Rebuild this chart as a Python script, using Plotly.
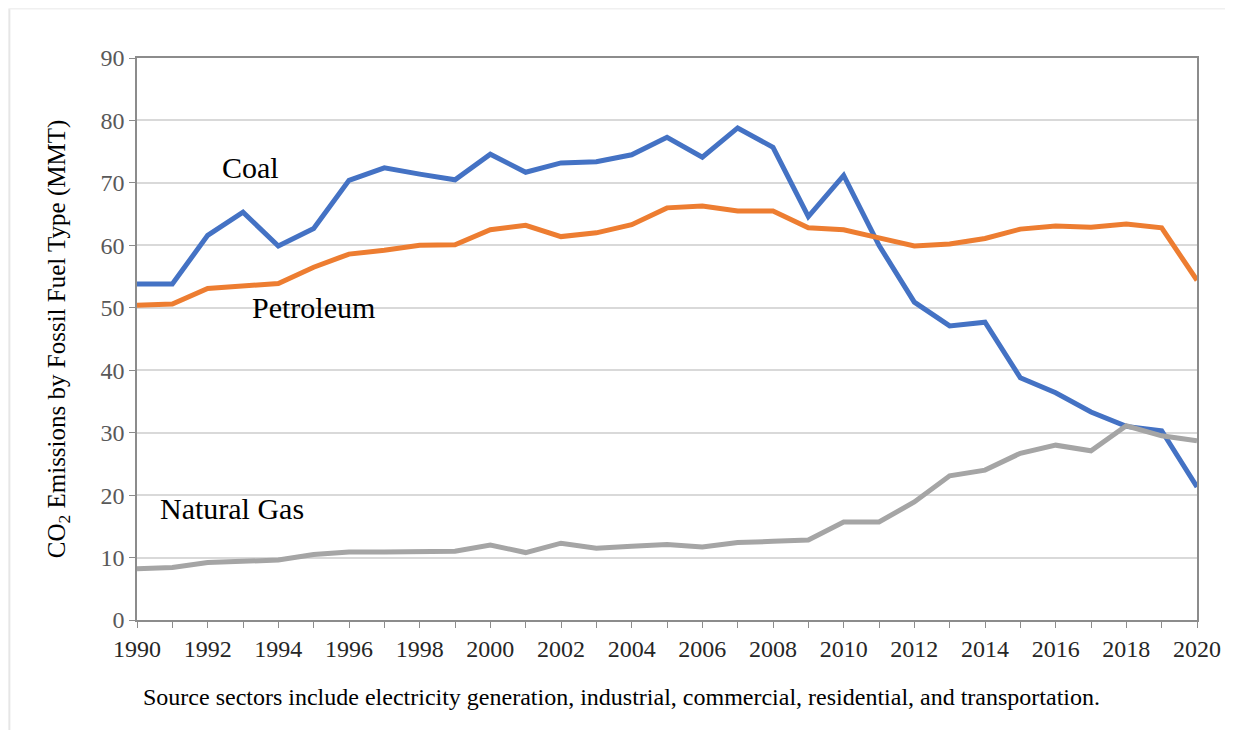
import plotly.graph_objects as go

# ── Data (MMT CO2) ───────────────────────────────────────────────────────────
years = list(range(1990, 2021))

coal = [53.8, 53.8, 61.6, 65.3, 59.9, 62.7, 70.4, 72.4, 71.4, 70.5,
        74.6, 71.7, 73.2, 73.4, 74.5, 77.3, 74.1, 78.8, 75.7, 64.6,
        71.2, 60.0, 50.9, 47.1, 47.7, 38.8, 36.4, 33.3, 31.0, 30.3,
        21.3]

petroleum = [50.4, 50.6, 53.1, 53.6, 53.9, 56.5, 58.6, 59.2, 60.0, 60.1,
             62.5, 63.2, 61.4, 62.0, 63.3, 66.0, 66.3, 65.5, 65.5, 62.8,
             62.5, 61.2, 59.9, 60.2, 61.1, 62.6, 63.1, 62.9, 63.4, 62.8,
             54.4]

natural_gas = [8.2, 8.4, 9.2, 9.5, 9.6, 10.5, 10.9, 10.9, 10.9, 11.0,
               12.0, 10.8, 12.3, 11.5, 11.8, 12.1, 11.7, 12.4, 12.6, 12.8,
               15.7, 15.7, 18.9, 23.1, 24.0, 26.7, 28.0, 27.1, 31.1, 29.5,
               28.7]

series_names = ["Coal", "Petroleum", "Natural Gas"]
series_colors = ["#4472C4", "#ED7D31", "#A5A5A5"]

# label positions (data coords) for the in-chart series labels
label_x = [1993.2, 1995.0, 1992.7]
label_y = [72.4, 50.1, 17.9]

caption = ("Source sectors include electricity generation, industrial, "
           "commercial, residential, and transportation.")

FONT = "Liberation Serif, Times New Roman, serif"

fig = go.Figure()
for name, vals, col in zip(series_names, [coal, petroleum, natural_gas], series_colors):
    fig.add_trace(go.Scatter(
        x=years, y=vals, mode="lines", name=name,
        line=dict(color=col, width=5),
    ))

annotations = [
    dict(x=x, y=y, text=t, showarrow=False, xref="x", yref="y",
         xanchor="center", yanchor="middle",
         font=dict(family=FONT, size=30, color="#000000"))
    for t, x, y in zip(series_names, label_x, label_y)
]
annotations.append(dict(
    x=0.457, y=-0.137, xref="paper", yref="paper", text=caption,
    xanchor="center", yanchor="middle",
    showarrow=False, font=dict(family=FONT, size=24, color="#000000"),
))

# faint frame around the figure (left + top edge)
shapes = [
    dict(type="line", xref="paper", yref="paper",
         x0=-0.1204, x1=-0.1204, y0=1.088, y1=-0.2, line=dict(color="#e6e6e6", width=2)),
    dict(type="line", xref="paper", yref="paper",
         x0=-0.1204, x1=1.04, y0=1.088, y1=1.088, line=dict(color="#f0f0f0", width=2)),
]

fig.update_layout(
    width=1225, height=722,
    margin=dict(l=129, r=33, t=50, b=110),
    paper_bgcolor="white", plot_bgcolor="white",
    font=dict(family=FONT, size=20, color="#404040"),
    showlegend=False,
    annotations=annotations,
    shapes=shapes,
    xaxis=dict(
        range=[1990, 2020], tickvals=list(range(1990, 2021, 2)),
        ticks="outside", ticklen=6, tickcolor="#8c8c8c",
        minor=dict(dtick=1, ticks="outside", ticklen=6, tickcolor="#8c8c8c"),
        showline=True, linecolor="#8c8c8c", linewidth=1.5, mirror=True,
        showgrid=False, zeroline=False,
        tickfont=dict(family=FONT, size=24, color="#262626"),
    ),
    yaxis=dict(
        range=[0, 90], dtick=10,
        ticks="outside", ticklen=6, tickcolor="#8c8c8c",
        showline=True, linecolor="#8c8c8c", linewidth=1.5, mirror=True,
        showgrid=True, gridcolor="#d9d9d9", gridwidth=1.5, zeroline=False,
        tickfont=dict(family=FONT, size=24, color="#595959"),
        title=dict(text="CO<sub>2</sub> Emissions by Fossil Fuel Type (MMT)",
                   font=dict(family=FONT, size=25, color="#000000"), standoff=28),
    ),
)

fig.write_html("out.html")
